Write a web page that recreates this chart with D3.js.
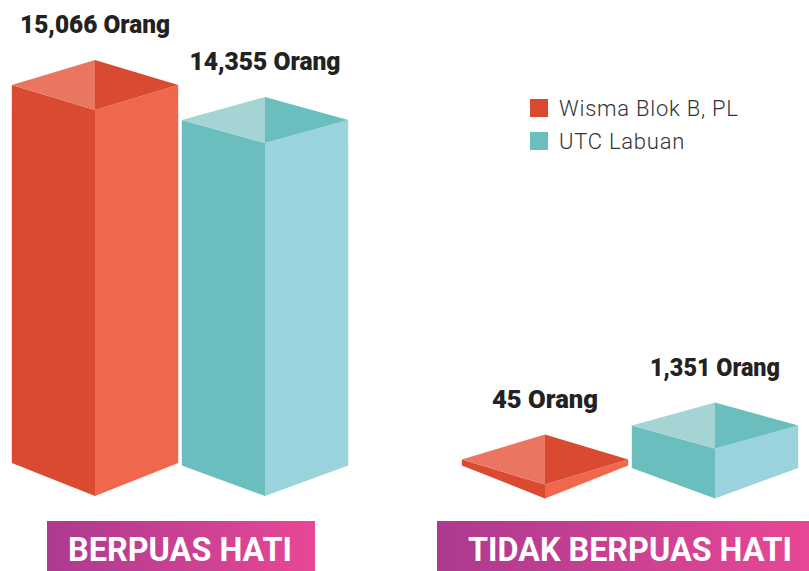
<!DOCTYPE html>
<html><head><meta charset="utf-8">
<script src="https://cdn.jsdelivr.net/npm/d3@7/dist/d3.min.js"></script>
<style>html,body{margin:0;padding:0;background:#fff}svg{display:block}text{font-family:Roboto,sans-serif}</style>
</head><body><svg id="c" width="809" height="571"></svg>
<script>
const categories = ["BERPUAS HATI", "TIDAK BERPUAS HATI"];
const seriesNames = ["Wisma Blok B, PL", "UTC Labuan"];
const wismaValues = [15066, 45];
const utcValues = [14355, 1351];
const unit = "Orang";

const palette = {
  "Wisma Blok B, PL": {left:"#D94A30", right:"#EF674C", topL:"#EA7662", topR:"#D94A30"},
  "UTC Labuan": {left:"#6ABEBE", right:"#9AD3DC", topL:"#A5D4D4", topR:"#6ABEBE"}
};

const svg = d3.select("#c");
const defs = svg.append("defs");
const grad = defs.append("linearGradient").attr("id","g").attr("x1",0).attr("x2",1).attr("y1",0).attr("y2",0);
grad.append("stop").attr("offset",0).attr("stop-color","#AC3A90");
grad.append("stop").attr("offset",1).attr("stop-color","#E84795");

const groupX = d3.scalePoint().domain(categories).range([180, 630]);
const seriesX = d3.scalePoint().domain(seriesNames).range([-85, 85]);
// the reference's bar heights are not proportional: piecewise scale as drawn
const height = d3.scaleLinear().domain([45, 1351, 14355, 15066]).range([14, 50, 353, 386]);

const halfW = 83.2;
const topDy = d3.scaleOrdinal().domain(seriesNames).range([25, 23]);
const botDy = d3.scaleOrdinal().domain(seriesNames).range([33, 30.5]);
const baseY = d3.scaleOrdinal().domain(categories).range([496, 498.5]);
// rendered width of each value label in the reference's narrower typeface
const labelW = d3.scaleOrdinal().domain([15066, 14355, 45, 1351]).range([150, 151, 106, 130]);

const bars = [];
categories.forEach((c, i) => {
  bars.push({c, s: seriesNames[0], v: wismaValues[i]});
  bars.push({c, s: seriesNames[1], v: utcValues[i]});
});
const fmt = d3.format(",");
const poly = pts => "M" + pts.map(p => p.join(",")).join("L") + "Z";

const g = svg.selectAll("g.bar").data(bars).join("g").attr("class","bar");
g.each(function(d){
  const sel = d3.select(this);
  const cx = groupX(d.c) + seriesX(d.s), base = baseY(d.c);
  const ft = base - height(d.v), td = topDy(d.s), bd = botDy(d.s);
  const col = palette[d.s], l = cx - halfW, r = cx + halfW;
  const side = ft - td, back = ft - 2*td, sb = base - bd;
  sel.append("path").attr("d", poly([[l,side],[cx,ft],[cx,base],[l,sb]])).attr("fill",col.left);
  sel.append("path").attr("d", poly([[cx,ft],[r,side],[r,sb],[cx,base]])).attr("fill",col.right);
  sel.append("path").attr("d", poly([[l,side],[cx,back],[cx,ft]])).attr("fill",col.topL);
  sel.append("path").attr("d", poly([[cx,back],[r,side],[cx,ft]])).attr("fill",col.topR);
  sel.append("text").attr("x", cx).attr("y", back - 27)
    .attr("text-anchor","middle").attr("font-size",26.5).attr("font-weight",900).attr("fill","#222")
    .attr("textLength",labelW(d.v)).attr("lengthAdjust","spacingAndGlyphs")
    .text(fmt(d.v) + " " + unit);
});

const bannerX = d3.scaleOrdinal().domain(categories).range([[47,315],[437,809]]);
const bannerText = d3.scaleOrdinal().domain(categories).range([[68,224],[468,324]]);
const bannerG = svg.selectAll("g.banner").data(categories).join("g").attr("class","banner");
bannerG.append("rect").attr("x",d=>bannerX(d)[0]).attr("y",521).attr("height",50)
  .attr("width",d=>bannerX(d)[1]-bannerX(d)[0]).attr("fill","url(#g)");
bannerG.append("text").attr("x",d=>bannerText(d)[0]).attr("y",561)
  .attr("font-size",34).attr("font-weight",700).attr("fill","#fff")
  .attr("textLength",d=>bannerText(d)[1]).attr("lengthAdjust","spacingAndGlyphs").text(d=>d);

const legend = svg.selectAll("g.legend").data(seriesNames).join("g").attr("class","legend")
  .attr("transform",(d,i)=>`translate(530,${99+i*33})`);
legend.append("rect").attr("width",18).attr("height",18).attr("fill",d=>palette[d].left);
legend.append("text").attr("x",29).attr("y",17).attr("font-size",22).attr("font-weight",300)
  .attr("letter-spacing",0.75).attr("fill","#333").text(d=>d);
</script></body></html>
